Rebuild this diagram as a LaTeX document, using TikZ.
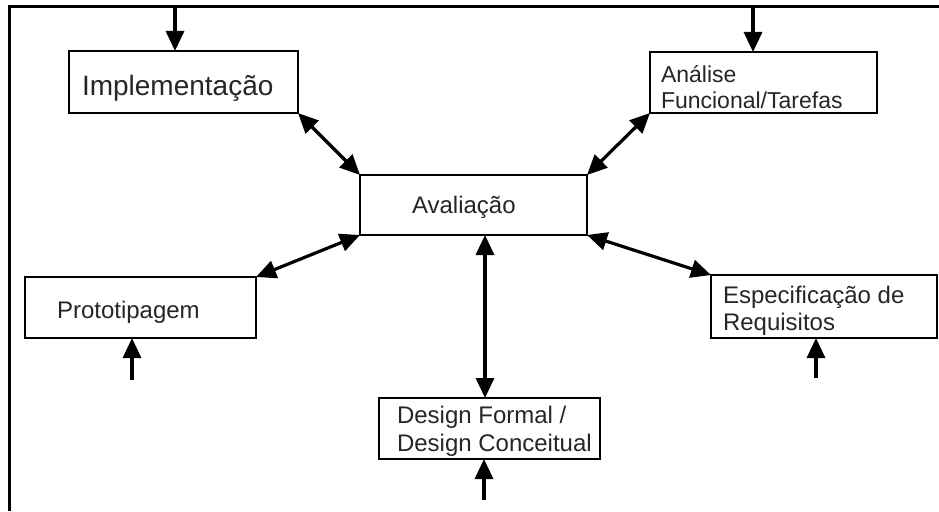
\documentclass[tikz,border=0pt]{standalone}
\usepackage{fontspec}
\setmainfont{Liberation Sans}
\usetikzlibrary{arrows.meta}
\begin{document}
\begin{tikzpicture}[x=1pt,y=-1pt,
  box/.style={draw, line width=2.8pt, inner sep=0pt, outer sep=0pt, fill=white},
  lbl/.style={anchor=base west, inner sep=0pt, outer sep=0pt, align=left,
              text=black!85, font=\fontsize{24}{27}\selectfont},
  link/.style={line width=3.2pt, {Triangle[length=20pt,width=18pt]}-{Triangle[length=20pt,width=18pt]}},
  feed/.style={line width=3.2pt, -{Triangle[length=20pt,width=18pt]}}]
\useasboundingbox (0,0) rectangle (939,511);

% outer frame (left and top edges)
\draw[line width=3.2pt] (9.5,511) -- (9.5,6.5) -- (939,6.5);

% boxes
\node[box, minimum width=229pt, minimum height=62pt] (impl)   at (183.5,82)  {};
\node[box, minimum width=227pt, minimum height=61pt] (anal)   at (763.5,82.5) {};
\node[box, minimum width=227pt, minimum height=60pt] (eval)   at (473.5,205) {};
\node[box, minimum width=231pt, minimum height=61pt] (proto)  at (140.5,307.5) {};
\node[box, minimum width=226pt, minimum height=63pt] (spec)   at (824,306.5) {};
\node[box, minimum width=221pt, minimum height=61pt] (design) at (489.5,428.5) {};

% box texts (base anchor = baseline of the last line)
\node[lbl, font=\fontsize{28}{32}\selectfont] (implT) at (82,95) {Implementação};
\node[lbl, font=\fontsize{23}{26}\selectfont] (analT) at (661,108) {Análise\\Funcional/Tarefas};
\node[lbl] (evalT) at (412,213) {Avaliação};
\node[lbl] (protoT) at (57,318) {Prototipagem};
\node[lbl] (specT) at (723,330) {Especificação de\\Requisitos};
\node[lbl, font=\fontsize{24}{28}\selectfont] (designT) at (397,451) {Design Formal /\\Design Conceitual};

% two-way links with the central evaluation box
\draw[link] (impl.south east) -- (eval.north west);
\draw[link] (anal.south west) -- (eval.north east);
\draw[link] (proto.north east) -- (eval.south west);
\draw[link] (spec.north west) -- (eval.south east);
\draw[link] ([xshift=11.5pt]eval.south) -- ([xshift=11.5pt]eval.south |- design.north);

% incoming inputs
\coordinate (implsrc) at (175,8);
\coordinate (analsrc) at (753,8);
\coordinate (protosrc) at (132,380);
\coordinate (specsrc) at (816,378);
\coordinate (designsrc) at (484,500);
\draw[feed] (implsrc) -- (implsrc |- impl.north);
\draw[feed] (analsrc) -- (analsrc |- anal.north);
\draw[feed] (protosrc) -- (protosrc |- proto.south);
\draw[feed] (specsrc) -- (specsrc |- spec.south);
\draw[feed] (designsrc) -- (designsrc |- design.south);
\end{tikzpicture}
\end{document}
